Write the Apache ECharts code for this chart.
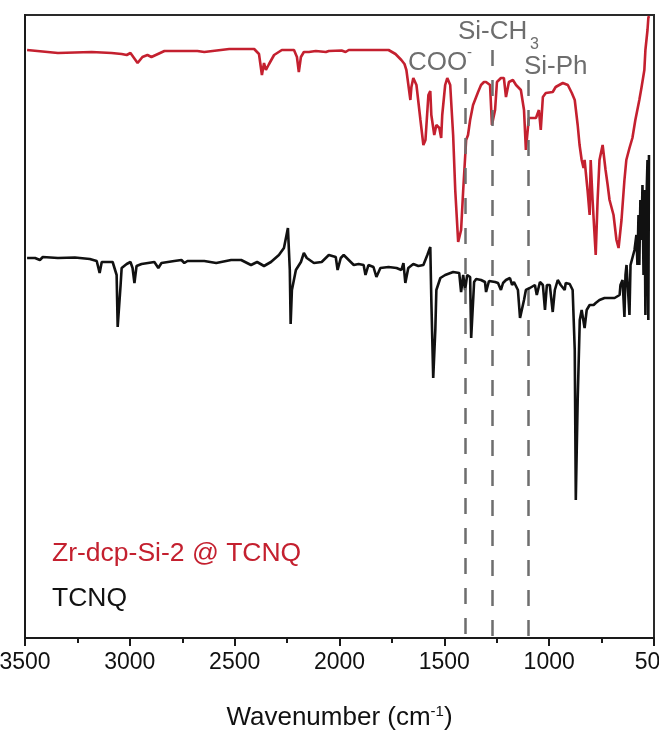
<!DOCTYPE html>
<html><head><meta charset="utf-8">
<script src="https://cdn.jsdelivr.net/npm/echarts@6/dist/echarts.min.js"></script>
<style>html,body{margin:0;padding:0;background:#fff}#c{width:659px;height:734px}</style>
</head><body><div id="c"></div>
<script>
// Zr-dcp-Si-2 @ TCNQ (red) spectrum, arbitrary offset units
const redWavenumbers = [3490,3343,3182,3087,3039,3015,2997,2963,2940,2916,2897,2835,2678,2645,2526,2407,2384,2370,2360,2351,2336,2312,2275,2217,2203,2194,2184,2170,2146,2113,2065,2051,1990,1971,1956,1766,1733,1705,1690,1681,1662,1657,1648,1633,1614,1600,1590,1576,1567,1562,1548,1538,1524,1515,1510,1496,1486,1472,1458,1448,1434,1420,1410,1396,1387,1377,1363,1339,1325,1311,1301,1282,1273,1258,1249,1230,1216,1206,1192,1173,1158,1135,1120,1111,1097,1063,1049,1040,1030,1016,983,969,935,911,892,878,864,855,845,836,831,826,817,807,802,793,778,769,760,745,731,721,712,693,679,669,664,655,641,632,617,603,589,584,570,560,546,541,531,527,524];
const redValues = [58.8,58.5,58.6,58.5,58.4,58.3,58.5,57.5,58.1,58.3,58.1,58.7,58.7,58.6,58.9,58.9,58.4,56.3,57.5,56.8,57.4,58.3,58.8,58.8,58.1,56.6,58.1,58.6,58.6,58.7,58.6,58.7,58.75,58.6,58.8,58.8,58.4,57.8,57.4,56.8,53.8,55.1,56.0,55.3,51.8,49.3,49.8,54.3,54.7,52.3,50.3,51.3,51.0,50.0,52.3,55.3,56.0,55.3,50.3,44.8,39.6,40.8,44.8,49.8,50.3,51.8,53.3,54.6,55.3,55.6,55.6,55.3,51.3,52.8,55.6,56.0,56.0,54.1,55.6,55.8,55.3,54.8,52.8,48.8,52.0,52.0,52.8,50.8,54.1,54.5,54.6,55.1,55.5,55.3,54.5,53.8,51.3,49.3,47.8,47.0,47.8,47.8,44.8,42.3,47.8,43.8,38.3,43.8,47.8,49.3,46.8,45.3,43.8,42.3,39.8,39.0,38.8,41.8,45.8,47.8,49.0,50.0,51.8,51.6,53.8,55.0,56.8,58.8,60.8,62.0,62.2];

// TCNQ (black) spectrum
const blackWavenumbers = [3490,3452,3429,3415,3343,3262,3191,3158,3144,3134,3082,3063,3058,3044,3039,3015,2997,2987,2978,2968,2944,2883,2864,2849,2788,2754,2740,2725,2645,2588,2517,2469,2422,2393,2360,2327,2289,2265,2246,2237,2233,2227,2208,2184,2170,2156,2122,2085,2051,2018,2009,1994,1980,1932,1909,1885,1876,1862,1838,1824,1805,1766,1728,1705,1695,1686,1672,1648,1624,1600,1581,1567,1562,1553,1543,1538,1519,1496,1458,1429,1420,1410,1401,1391,1377,1372,1358,1348,1325,1306,1301,1287,1258,1244,1230,1220,1206,1187,1177,1168,1149,1139,1130,1120,1111,1092,1068,1059,1044,1030,1020,1011,997,983,973,959,945,926,921,902,888,878,873,864,854,845,831,821,807,788,778,760,736,688,664,660,650,641,636,631,617,612,593,584,579,574,570,565,560,555,550,545,541,536,531,527,524];
const blackValues = [38.0,38.0,37.8,38.1,38.0,38.05,37.9,37.7,36.5,37.6,37.6,36.3,31.1,35.3,37.0,37.4,37.6,37.0,35.5,37.2,37.4,37.6,37.0,37.5,37.7,37.8,37.5,37.7,37.7,37.5,37.8,37.8,37.3,37.6,37.2,37.6,38.3,39.0,41.0,36.8,31.4,34.8,36.8,37.6,38.5,38.0,37.5,37.6,38.3,38.1,36.8,38.0,38.3,37.3,37.4,37.3,36.3,37.3,37.1,36.1,37.0,37.1,37.0,36.8,37.5,35.5,37.0,37.4,37.2,37.3,38.3,39.1,33.8,26.0,30.8,34.8,36.0,36.3,36.6,36.5,34.6,36.3,34.8,36.3,36.1,30.0,35.6,35.9,35.8,35.6,34.6,35.7,35.6,35.5,34.8,35.5,35.8,36.0,35.3,35.6,34.8,32.0,32.0,33.8,34.8,35.0,35.3,34.3,35.6,35.3,32.8,35.3,35.3,32.6,34.8,35.8,35.3,34.8,35.5,35.4,34.8,28.8,13.8,23.8,31.8,32.8,31.0,32.8,33.3,33.3,33.5,33.8,34.0,34.0,34.3,35.3,35.8,32.1,36.3,37.3,32.3,37.3,38.8,40.3,37.3,42.3,37.3,43.8,39.8,45.3,36.3,44.8,32.3,43.8,47.8,31.8,48.3];

// Marker lines: wavenumber and top of each dashed line
const markerWavenumbers = [1400, 1270, 1100];
const markerTops = [56.0, 58.8, 55.8];

const seriesNames = ['Zr-dcp-Si-2 @ TCNQ', 'TCNQ'];
const annotationTexts = ['COO', '-', 'Si-CH', '3', 'Si-Ph'];

const zip = (xs, ys) => xs.map((x, i) => [x, ys[i]]);
const FONT = '"Liberation Sans", Arial, sans-serif';
const RED = '#c4202f';
const GRAY = '#6e6e6e';

const chart = echarts.init(document.getElementById('c'), null, {renderer: 'canvas'});
chart.setOption({
  animation: false,
  backgroundColor: '#fff',
  grid: {left: 25, right: 5, top: 15, bottom: 96, containLabel: false, outerBoundsMode: 'none',
    show: true, borderColor: '#2a2a2a', borderWidth: 2, backgroundColor: 'transparent'},
  xAxis: {
    type: 'value', min: 500, max: 3500, interval: 500, inverse: true,
    name: 'Wavenumber (cm{sup|-1})',
    nameLocation: 'middle', nameGap: 66,
    nameTextStyle: {fontFamily: FONT, fontSize: 26, color: '#111',
      rich: {sup: {fontFamily: FONT, fontSize: 15, color: '#111', verticalAlign: 'top', padding: [0, 0, 13, 0]}}},
    axisLine: {show: true, lineStyle: {color: '#1a1a1a', width: 2}},
    axisTick: {show: true, inside: false, length: 8, lineStyle: {color: '#1a1a1a', width: 2}},
    minorTick: {show: true, splitNumber: 2, length: 5, lineStyle: {color: '#1a1a1a', width: 2}},
    axisLabel: {show: true, fontFamily: FONT, fontSize: 23, color: '#111', margin: 13,
      showMinLabel: true, showMaxLabel: true, hideOverlap: false,
      alignMinLabel: 'center', alignMaxLabel: 'center', formatter: v => String(v)},
    splitLine: {show: false}
  },
  yAxis: {
    type: 'value', min: 0, max: 62.3,
    axisLine: {show: true, lineStyle: {color: '#1a1a1a', width: 2}},
    axisTick: {show: false}, axisLabel: {show: false}, splitLine: {show: false}
  },
  series: [
    {
      name: seriesNames[0], type: 'line', data: zip(redWavenumbers, redValues),
      showSymbol: false, symbol: 'none', lineStyle: {color: RED, width: 2.6}, z: 3,
      markLine: {
        silent: true, symbol: 'none', animation: false,
        lineStyle: {color: GRAY, width: 2.5, type: [16, 14]},
        label: {show: false},
        data: markerWavenumbers.map((w, i) => [{coord: [w, markerTops[i]]}, {coord: [w, 0]}])
      }
    },
    {
      name: seriesNames[1], type: 'line', data: zip(blackWavenumbers, blackValues),
      showSymbol: false, symbol: 'none', lineStyle: {color: '#111', width: 2.6}, z: 3
    }
  ],
  graphic: [
    {type: 'text', left: 52, top: 540, style: {text: seriesNames[0], fontFamily: FONT, fontSize: 26.5, fill: RED}},
    {type: 'text', left: 52, top: 585, style: {text: seriesNames[1], fontFamily: FONT, fontSize: 26.5, fill: '#111'}},
    {type: 'text', left: 408, top: 50, style: {text: annotationTexts[0], fontFamily: FONT, fontSize: 26, fill: GRAY}},
    {type: 'text', left: 467, top: 45, style: {text: annotationTexts[1], fontFamily: FONT, fontSize: 15, fill: GRAY}},
    {type: 'text', left: 458, top: 19, style: {text: annotationTexts[2], fontFamily: FONT, fontSize: 26, fill: GRAY}},
    {type: 'text', left: 530, top: 37, style: {text: annotationTexts[3], fontFamily: FONT, fontSize: 16, fill: GRAY}},
    {type: 'text', left: 524, top: 54, style: {text: annotationTexts[4], fontFamily: FONT, fontSize: 26, fill: GRAY}}
  ]
});
</script>
</body></html>
